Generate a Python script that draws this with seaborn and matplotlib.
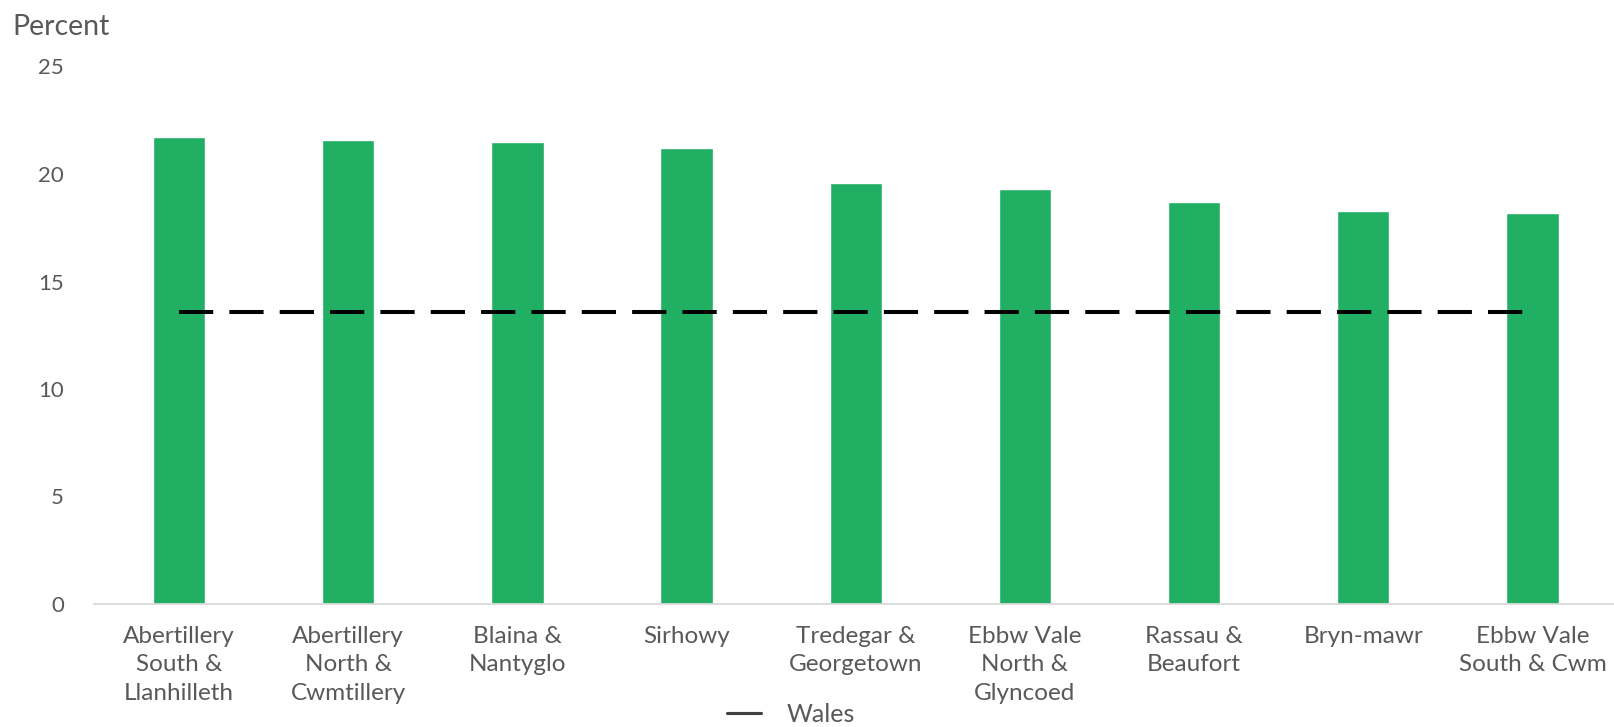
import matplotlib
matplotlib.use("Agg")
import matplotlib.pyplot as plt
import seaborn as sns
import pandas as pd

# Share of residents (percent) by ward, with the Wales average as a reference line
wards = [
    "Abertillery\nSouth &\nLlanhilleth",
    "Abertillery\nNorth &\nCwmtillery",
    "Blaina &\nNantyglo",
    "Sirhowy",
    "Tredegar &\nGeorgetown",
    "Ebbw Vale\nNorth &\nGlyncoed",
    "Rassau &\nBeaufort",
    "Bryn-mawr",
    "Ebbw Vale\nSouth & Cwm",
]
ward_values = [21.7, 21.6, 21.5, 21.2, 19.6, 19.3, 18.7, 18.3, 18.2]
wales_values = [13.6, 13.6, 13.6, 13.6, 13.6, 13.6, 13.6, 13.6, 13.6]
y_ticks = [0, 5, 10, 15, 20, 25]

GREEN = "#21AF63"
GREY_TEXT = "#595959"

sns.set_theme(style="white")
plt.rcParams["font.family"] = ["Lato", "DejaVu Sans"]

df = pd.DataFrame({"ward": wards, "value": ward_values, "wales": wales_values})

fig = plt.figure(figsize=(16.14, 7.27), dpi=100)
ax = fig.add_axes([94.5 / 1614, (727 - 604) / 727, (1617 - 94.5) / 1614, (604 - 66.5) / 727])

sns.barplot(data=df, x="ward", y="value", color=GREEN, width=0.31,
            saturation=1, ax=ax, zorder=2)

ax.plot(range(len(wards)), df["wales"], color="black", linewidth=2.9,
        dashes=(8.5, 4.0), label="Wales", zorder=3)

ax.set_ylim(0, 25)
ax.set_xlim(-0.5, len(wards) - 0.5)
ax.set_yticks(y_ticks)
ax.set_xlabel("")
ax.set_ylabel("")

for side in ["top", "right", "left"]:
    ax.spines[side].set_visible(False)
ax.spines["bottom"].set_color("#D9D9D9")
ax.spines["bottom"].set_linewidth(1.3)

ax.tick_params(axis="x", length=0, pad=16, labelsize=17.5, labelcolor=GREY_TEXT)
ax.tick_params(axis="y", length=0, pad=22, labelsize=16, labelcolor=GREY_TEXT)
for lbl in ax.get_xticklabels():
    lbl.set_linespacing(1.42)

fig.text(12 / 1614, 1 - 27 / 727, "Percent", fontsize=20.5, color=GREY_TEXT,
         ha="left", va="center")

fig.legend(handles=ax.get_lines(), labels=["Wales"], loc="center",
           bbox_to_anchor=(791 / 1614, 1 - 714 / 727), frameon=False,
           fontsize=18, labelcolor=GREY_TEXT, handlelength=1.35,
           handletextpad=1.0)

fig.savefig("out.png", dpi=100)
